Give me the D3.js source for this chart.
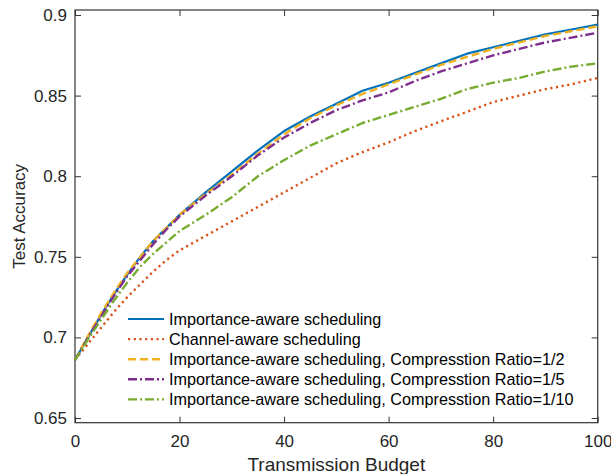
<!DOCTYPE html>
<html><head><meta charset="utf-8">
<script src="https://cdn.jsdelivr.net/npm/d3@7"></script>
<style>body{margin:0;background:#fff}svg{display:block;font-family:"Liberation Sans",Arial,sans-serif}</style>
</head><body><svg id="c" width="611" height="474"></svg>
<script>
const budget = [0,2.5,5,7.5,10,12.5,15,17.5,20,25,30,35,40,45,50,55,60,65,70,75,80,85,90,95,100];
const importanceAware = [0.686,0.700,0.714,0.727,0.739,0.750,0.760,0.768,0.776,0.790,0.803,0.816,0.828,0.837,0.845,0.853,0.858,0.864,0.870,0.876,0.880,0.884,0.888,0.891,0.894];
const channelAware    = [0.686,0.696,0.706,0.716,0.725,0.733,0.741,0.748,0.754,0.763,0.772,0.781,0.790,0.799,0.808,0.815,0.821,0.828,0.834,0.840,0.846,0.850,0.854,0.857,0.861];
const ratioHalf       = [0.686,0.701,0.715,0.728,0.740,0.750,0.760,0.768,0.776,0.789,0.801,0.814,0.826,0.836,0.844,0.851,0.857,0.863,0.869,0.874,0.879,0.883,0.887,0.890,0.893];
const ratioFifth      = [0.686,0.700,0.713,0.726,0.738,0.748,0.758,0.767,0.775,0.788,0.800,0.813,0.824,0.833,0.841,0.847,0.852,0.859,0.865,0.870,0.875,0.879,0.883,0.886,0.889];
const ratioTenth      = [0.686,0.699,0.711,0.723,0.734,0.744,0.752,0.759,0.766,0.776,0.787,0.800,0.810,0.819,0.826,0.833,0.838,0.843,0.848,0.854,0.858,0.861,0.865,0.868,0.870];
const seriesNames = ["Importance-aware scheduling","Channel-aware scheduling","Importance-aware scheduling, Compresstion Ratio=1/2","Importance-aware scheduling, Compresstion Ratio=1/5","Importance-aware scheduling, Compresstion Ratio=1/10"];
const xTicks = [0,20,40,60,80,100];
const yTicks = [0.65,0.7,0.75,0.8,0.85,0.9];

const series = [
  {name:seriesNames[0], values:importanceAware, color:"#0072BD", dash:null, w:2.2},
  {name:seriesNames[1], values:channelAware, color:"#D95319", dash:"2.2,3.5", w:2.4},
  {name:seriesNames[2], values:ratioHalf, color:"#EDB120", dash:"8,4", w:2.4},
  {name:seriesNames[3], values:ratioFifth, color:"#7E2F8E", dash:"9,3,2,3", w:2.4},
  {name:seriesNames[4], values:ratioTenth, color:"#77AC30", dash:"9,3,2,3", w:2.4}
];

const L=75, R=597.7, T=10, B=422.7;
const svg = d3.select("#c");
const x = d3.scaleLinear().domain([0,100]).range([L,R]);
const y = d3.scaleLinear().domain([0.6471,0.9031]).range([B,T]);
const axisColor = "#333";
const fs = 17;

const gx = svg.append("g").attr("transform",`translate(0,${B})`)
  .call(d3.axisBottom(x).tickValues(xTicks).tickSizeInner(-6).tickSizeOuter(0).tickPadding(12).tickFormat(d3.format("d")));
const gxt = svg.append("g").attr("transform",`translate(0,${T})`)
  .call(d3.axisTop(x).tickValues(xTicks).tickSizeInner(-6).tickSizeOuter(0).tickFormat(""));
const gy = svg.append("g").attr("transform",`translate(${L},0)`)
  .call(d3.axisLeft(y).tickValues(yTicks).tickSizeInner(-6).tickSizeOuter(0).tickPadding(8).tickFormat(d=>String(+d.toFixed(2))));
const gyr = svg.append("g").attr("transform",`translate(${R},0)`)
  .call(d3.axisRight(y).tickValues(yTicks).tickSizeInner(-6).tickSizeOuter(0).tickFormat(""));
[gx,gxt,gy,gyr].forEach(g=>{
  g.select(".domain").remove();
  g.selectAll("line").attr("stroke",axisColor);
  g.selectAll("text").attr("fill","#262626").style("font-size",fs+"px").style("font-family",'"Liberation Sans",Arial,sans-serif');
});
gx.selectAll("text").attr("dy","0.71em");
svg.append("rect").attr("x",L).attr("y",T).attr("width",R-L).attr("height",B-T)
  .attr("fill","none").attr("stroke",axisColor).attr("stroke-width",1.2);

const line = d3.line().x((d,i)=>x(budget[i])).y(d=>y(d));
series.forEach(s=>{
  svg.append("path").datum(s.values).attr("d",line).attr("fill","none")
    .attr("stroke",s.color).attr("stroke-width",s.w)
    .attr("stroke-dasharray",s.dash).attr("stroke-linejoin","round");
});

const lg = svg.append("g");
series.forEach((s,i)=>{
  const yy = 319 + i*20.1;
  lg.append("line").attr("x1",128).attr("x2",164).attr("y1",yy).attr("y2",yy)
    .attr("stroke",s.color).attr("stroke-width",s.w).attr("stroke-dasharray",s.dash);
  lg.append("text").attr("x",169).attr("y",yy).attr("dy","0.35em")
    .style("font-size","16.2px").attr("fill","#000").text(s.name);
});

svg.append("text").attr("x",(L+R)/2).attr("y",464).attr("dy","0.35em").attr("text-anchor","middle")
  .style("font-size","19px").attr("fill","#262626").text("Transmission Budget");
svg.append("text").attr("transform",`translate(19,${(T+B)/2}) rotate(-90)`).attr("dy","0.35em").attr("text-anchor","middle")
  .style("font-size","17px").attr("fill","#262626").text("Test Accuracy");
</script></body></html>
